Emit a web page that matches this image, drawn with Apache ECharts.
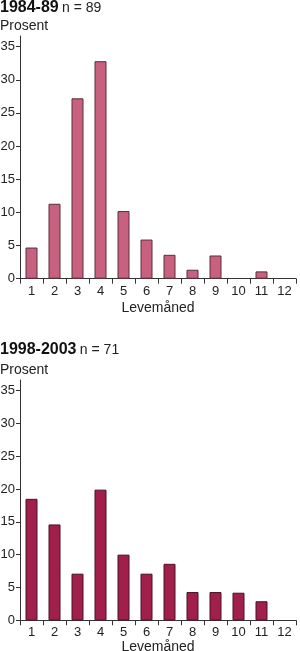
<!DOCTYPE html>
<html><head><meta charset="utf-8">
<script src="https://cdn.jsdelivr.net/npm/echarts@6/dist/echarts.min.js"></script>
<style>html,body{margin:0;padding:0;background:#fff}#c{width:300px;height:651px}</style>
</head><body><div id="c"></div>
<script>
var categories = ['1','2','3','4','5','6','7','8','9','10','11','12'];
var values1984 = [4.7, 11.3, 27.2, 32.8, 10.2, 5.9, 3.6, 1.35, 3.5, 0, 1.1, 0];
var values1998 = [18.5, 14.6, 7.1, 19.9, 10.0, 7.1, 8.6, 4.3, 4.3, 4.2, 2.9, 0];
var yTicks = [0, 5, 10, 15, 20, 25, 30, 35];
var title1 = '1984-89', n1 = 'n = 89';
var title2 = '1998-2003', n2 = 'n = 71';
var yName = 'Prosent', xName = 'Levemåned';

var FONT = '"Liberation Sans", Arial, sans-serif';
var TXT = '#222';
var chart = echarts.init(document.getElementById('c'), null, {renderer: 'canvas'});

function barData(vals) {
  // empty months are drawn as no bar at all
  return vals.map(function (v) { return v === 0 ? '-' : v; });
}
function xAxis(gi, gap) {
  return {
    type: 'category', gridIndex: gi, data: categories,
    axisLine: {lineStyle: {color: '#333', width: 1}},
    axisTick: {show: true, length: 5, lineStyle: {color: '#333'}},
    axisLabel: {color: TXT, fontSize: 13, fontFamily: FONT, margin: 6, interval: 0},
    name: xName, nameLocation: 'middle', nameGap: gap,
    nameTextStyle: {color: TXT, fontSize: 14, fontFamily: FONT}
  };
}
function yAxis(gi) {
  return {
    type: 'value', gridIndex: gi, min: 0, max: 36.6,
    axisLine: {show: true, lineStyle: {color: '#333', width: 1}},
    axisTick: {show: true, length: 4, customValues: yTicks, lineStyle: {color: '#333'}},
    axisLabel: {color: TXT, fontSize: 13, fontFamily: FONT, margin: 5, customValues: yTicks},
    splitLine: {show: false}
  };
}
function titleText(y, t, n) {
  return {
    type: 'text', left: 0, top: y,
    style: {
      text: '{a|' + t + '} {b|' + n + '}',
      rich: {
        a: {fontSize: 16, fontFamily: FONT, fontWeight: 'bold', fill: '#111'},
        b: {fontSize: 14, fontFamily: FONT, fill: TXT}
      }
    }
  };
}
chart.setOption({
  animation: false,
  grid: [
    {left: 20, top: 36, width: 276, height: 242.7, outerBoundsMode: 'none'},
    {left: 20, top: 380, width: 276, height: 240.3, outerBoundsMode: 'none'}
  ],
  xAxis: [xAxis(0, 22.5), xAxis(1, 19.5)],
  yAxis: [yAxis(0), yAxis(1)],
  series: [
    {type: 'bar', xAxisIndex: 0, yAxisIndex: 0, data: barData(values1984), barWidth: 12,
     itemStyle: {color: '#c8607f', borderColor: '#5a2e3a', borderWidth: 1}},
    {type: 'bar', xAxisIndex: 1, yAxisIndex: 1, data: barData(values1998), barWidth: 12,
     itemStyle: {color: '#a01f4b', borderColor: '#4a1024', borderWidth: 1}}
  ],
  graphic: [
    titleText(0, title1, n1),
    {type: 'text', left: 0, top: 19.5, style: {text: yName, fontSize: 14, fontFamily: FONT, fill: TXT}},
    titleText(342, title2, n2),
    {type: 'text', left: 0, top: 363.5, style: {text: yName, fontSize: 14, fontFamily: FONT, fill: TXT}}
  ]
});
</script></body></html>
